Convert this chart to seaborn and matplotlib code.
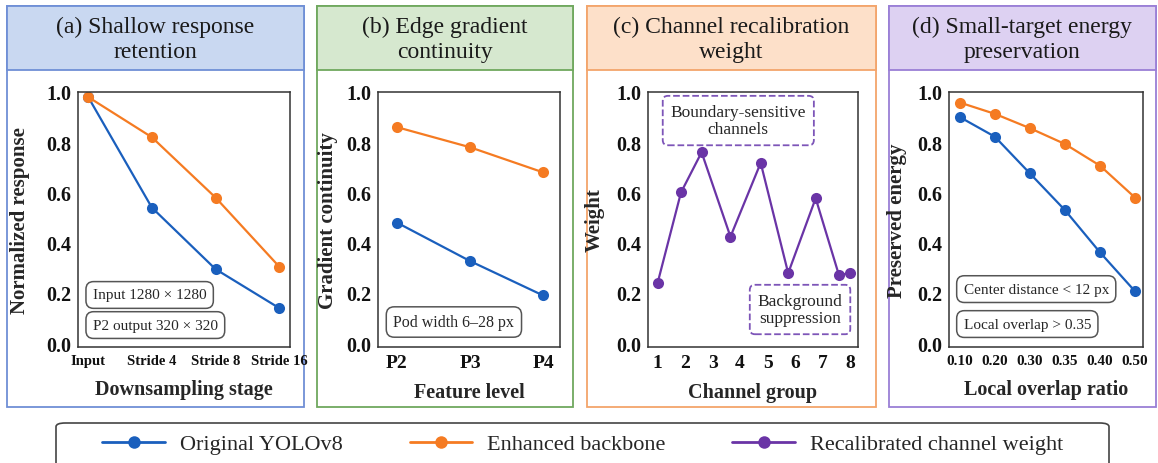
import numpy as np
import pandas as pd
import seaborn as sns
import matplotlib
matplotlib.use("Agg")
import matplotlib.pyplot as plt
from matplotlib.patches import Rectangle, FancyBboxPatch
from matplotlib.lines import Line2D

# ---------------- data ----------------
stages_a = ["Input", "Stride 4", "Stride 8", "Stride 16"]
orig_a = [0.98, 0.54, 0.295, 0.14]
enh_a = [0.98, 0.82, 0.58, 0.305]

levels_b = ["P2", "P3", "P4"]
orig_b = [0.48, 0.327, 0.19]
enh_b = [0.86, 0.78, 0.68]

groups_c = [1, 1.85, 2.6, 3.65, 4.75, 5.75, 6.75, 7.6, 8]
ticks_c = [1, 2, 3, 4, 5, 6, 7, 8]
weight_c = [0.24, 0.60, 0.76, 0.424, 0.718, 0.279, 0.577, 0.27, 0.28]

overlap_d = ["0.10", "0.20", "0.30", "0.35", "0.40", "0.50"]
orig_d = [0.90, 0.822, 0.676, 0.53, 0.362, 0.207]
enh_d = [0.958, 0.913, 0.856, 0.793, 0.707, 0.58]

titles = ["(a) Shallow response\nretention", "(b) Edge gradient\ncontinuity",
          "(c) Channel recalibration\nweight", "(d) Small-target energy\npreservation"]
xlabels = ["Downsampling stage", "Feature level", "Channel group", "Local overlap ratio"]
ylabels = ["Normalized response", "Gradient continuity", "Weight", "Preserved energy"]
legend_labels = ["Original YOLOv8", "Enhanced backbone", "Recalibrated channel weight"]

# ---------------- style ----------------
sns.set_style("white")
plt.rcParams["font.family"] = ["Liberation Serif", "DejaVu Serif"]

BLUE = "#1a5fbd"
ORANGE = "#f57b22"
PURPLE = "#6a34a6"

W, H = 1158, 464
fig = plt.figure(figsize=(W / 100, H / 100), dpi=100)


def fx(px):
    return px / W


def fy(py):
    return 1 - py / H


# panel frames: (left, right, fill, edge)
panels = [
    (7, 304, "#c9d8f1", "#6f8fd6"),
    (317, 573, "#d6e8cf", "#6fa85e"),
    (587, 876, "#fde0c9", "#f3a56b"),
    (889, 1156, "#ddd1f2", "#9a7fd6"),
]
top, hdr_bot, bot = 7, 71, 408
for (l, r, fill, edge), title in zip(panels, titles):
    fig.add_artist(Rectangle((fx(l), fy(bot)), fx(r) - fx(l), fy(top) - fy(bot),
                             transform=fig.transFigure, facecolor="white",
                             edgecolor=edge, lw=1.3, zorder=0))
    fig.add_artist(Rectangle((fx(l), fy(hdr_bot)), fx(r) - fx(l), fy(top) - fy(hdr_bot),
                             transform=fig.transFigure, facecolor=fill,
                             edgecolor=edge, lw=1.3, zorder=0))
    fig.text(fx((l + r) / 2), fy(40), title, ha="center", va="center",
             fontsize=17, linespacing=1.2, color="#1a1a1a")

# axes positions (left, right) in pixels, top=93, bottom=348
ax_lr = [(78, 290), (378, 560), (648, 858), (949, 1143)]
ax_top, ax_bot = 93, 348
axes = []
for l, r in ax_lr:
    ax = fig.add_axes([fx(l), fy(ax_bot), fx(r) - fx(l), fy(ax_top) - fy(ax_bot)])
    axes.append(ax)

line_kw = dict(marker="o", markersize=8, markeredgewidth=0, linewidth=1.6)

# (a)
ax = axes[0]
xa = np.arange(len(stages_a))
sns.lineplot(x=xa, y=orig_a, ax=ax, color=BLUE, **line_kw)
sns.lineplot(x=xa, y=enh_a, ax=ax, color=ORANGE, **line_kw)
ax.set_xticks(xa)
ax.set_xticklabels(stages_a, fontsize=10.5, fontweight="bold")
ax.set_xlim(-0.16, 3.17)

# (b)
ax = axes[1]
xb = np.arange(len(levels_b))
sns.lineplot(x=xb, y=orig_b, ax=ax, color=BLUE, **line_kw)
sns.lineplot(x=xb, y=enh_b, ax=ax, color=ORANGE, **line_kw)
ax.set_xticks(xb)
ax.set_xticklabels(levels_b, fontsize=14, fontweight="bold")
ax.set_xlim(-0.26, 2.23)

# (c)
ax = axes[2]
sns.lineplot(x=groups_c, y=weight_c, ax=ax, color=PURPLE, **line_kw)
ax.set_xticks(ticks_c)
ax.set_xticklabels([str(t) for t in ticks_c], fontsize=14, fontweight="bold")
ax.set_xlim(0.65, 8.29)

# (d)
ax = axes[3]
xd = np.arange(len(overlap_d))
sns.lineplot(x=xd, y=orig_d, ax=ax, color=BLUE, **line_kw)
sns.lineplot(x=xd, y=enh_d, ax=ax, color=ORANGE, **line_kw)
ax.set_xticks(xd)
ax.set_xticklabels(overlap_d, fontsize=11, fontweight="bold")
ax.set_xlim(-0.31, 5.23)

label_x = [-0.226, -0.22, -0.205, -0.216]
label_y = [-0.125, -0.137, -0.137, -0.125]
for ax, xl, yl, lx, ly in zip(axes, xlabels, ylabels, label_x, label_y):
    ax.set_ylim(-0.015, 1.0)
    ax.set_yticks([0.0, 0.2, 0.4, 0.6, 0.8, 1.0])
    ax.set_yticklabels(["0.0", "0.2", "0.4", "0.6", "0.8", "1.0"],
                       fontsize=14.5, fontweight="bold")
    ax.set_xlabel(xl, fontsize=14.5, fontweight="bold")
    ax.set_ylabel(yl, fontsize=15, fontweight="bold")
    ax.xaxis.set_label_coords(0.5, ly)
    ax.yaxis.set_label_coords(lx, 0.5)
    ax.tick_params(direction="in", length=4, width=1.0, colors="#222222",
                   labelcolor="#111111", pad=5)
    for s in ax.spines.values():
        s.set_visible(True)
        s.set_color("#333333")
        s.set_linewidth(1.1)
    ax.set_facecolor("white")

grey_box = dict(boxstyle="round,pad=0.45,rounding_size=0.5", facecolor="white",
                edgecolor="#555555", lw=1.1)
axes[0].text(0.07, 0.204, "Input 1280 × 1280", transform=axes[0].transAxes,
             fontsize=11, va="center", ha="left", bbox=grey_box)
axes[0].text(0.07, 0.086, "P2 output 320 × 320", transform=axes[0].transAxes,
             fontsize=11, va="center", ha="left", bbox=grey_box)
axes[1].text(0.085, 0.098, "Pod width 6–28 px", transform=axes[1].transAxes,
             fontsize=11.5, va="center", ha="left", bbox=grey_box)
axes[3].text(0.075, 0.227, "Center distance < 12 px", transform=axes[3].transAxes,
             fontsize=11, va="center", ha="left", bbox=grey_box)
axes[3].text(0.075, 0.09, "Local overlap > 0.35", transform=axes[3].transAxes,
             fontsize=11, va="center", ha="left", bbox=grey_box)

dash_box = dict(boxstyle="round,pad=0.45,rounding_size=0.3", facecolor="white",
                edgecolor="#7d55b8", lw=1.3, linestyle="--")
axes[2].text(0.43, 0.888, "Boundary-sensitive\nchannels", transform=axes[2].transAxes,
             fontsize=12.5, va="center", ha="center", bbox=dash_box, linespacing=1.15)
axes[2].text(0.724, 0.147, "Background\nsuppression", transform=axes[2].transAxes,
             fontsize=12.5, va="center", ha="center", bbox=dash_box, linespacing=1.15)

# legend frame and legend
fig.add_artist(FancyBboxPatch((fx(56), fy(475)), fx(1109) - fx(56), fy(424) - fy(475),
                              boxstyle="round,pad=0,rounding_size=0.008",
                              transform=fig.transFigure, facecolor="white",
                              edgecolor="#444444", lw=1.2, zorder=0))
handles = [Line2D([], [], color=c, marker="o", markersize=9, markeredgewidth=0, lw=2)
           for c in (BLUE, ORANGE, PURPLE)]
fig.legend(handles, legend_labels, loc="center", bbox_to_anchor=(fx(583), fy(445)),
           ncol=3, frameon=False, fontsize=16, handlelength=2.8, handletextpad=0.7,
           columnspacing=3.0, borderpad=0)

fig.savefig("out.png", dpi=100)
